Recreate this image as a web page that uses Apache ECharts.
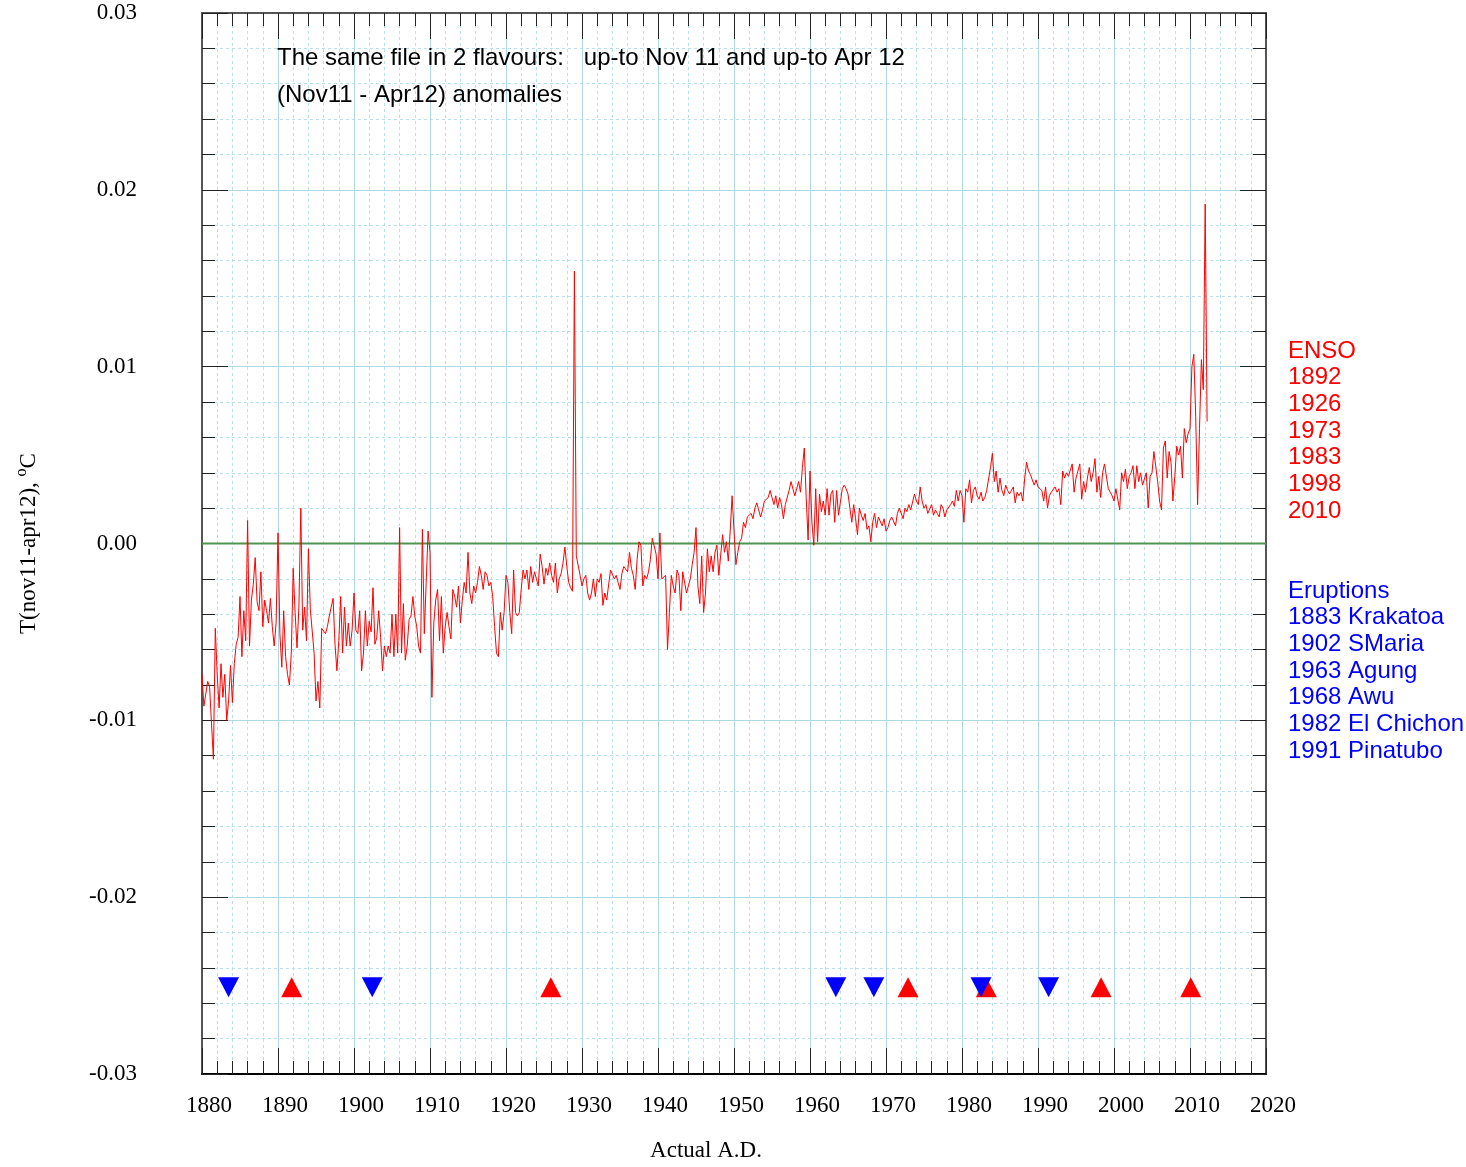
<!DOCTYPE html>
<html><head><meta charset="utf-8">
<script src="https://cdn.jsdelivr.net/npm/echarts@6/dist/echarts.min.js"></script>
<style>html,body{margin:0;padding:0;background:#fff}#chart{width:1466px;height:1167px}</style>
</head><body><div id="chart"></div>
<script>
// ---- data ----
const startYear = 1880;      // first sample
const stepYears = 0.25;      // quarterly readings
const anomaly = [
-0.0074,-0.0092,-0.0093,-0.0078,-0.0081,-0.0102,-0.0122,-0.0048,-0.0074,-0.0093,
-0.0068,-0.0087,-0.0074,-0.0100,-0.0089,-0.0069,-0.0090,-0.0068,-0.0057,-0.0053,
-0.0030,-0.0064,-0.0038,-0.0055,0.0013,-0.0058,-0.0032,-0.0023,-0.0008,-0.0033,
-0.0038,-0.0016,-0.0047,-0.0032,-0.0038,-0.0045,-0.0031,-0.0047,-0.0058,-0.0045,
0.0006,-0.0051,-0.0070,-0.0038,-0.0064,-0.0074,-0.0080,-0.0062,-0.0014,-0.0039,
-0.0059,-0.0036,0.0020,-0.0049,-0.0036,-0.0055,-0.0003,-0.0037,-0.0037,-0.0062,
-0.0089,-0.0078,-0.0093,-0.0048,-0.0047,-0.0051,-0.0047,-0.0041,-0.0041,-0.0031,
-0.0057,-0.0072,-0.0055,-0.0030,-0.0062,-0.0036,-0.0058,-0.0045,-0.0058,-0.0049,
-0.0028,-0.0049,-0.0051,-0.0038,-0.0072,-0.0062,-0.0038,-0.0058,-0.0044,-0.0050,
-0.0025,-0.0057,-0.0053,-0.0038,-0.0053,-0.0072,-0.0058,-0.0064,-0.0058,-0.0062,
-0.0040,-0.0064,-0.0040,-0.0062,0.0009,-0.0062,-0.0034,-0.0066,-0.0058,-0.0043,
-0.0041,-0.0030,-0.0041,-0.0047,-0.0058,-0.0062,0.0008,-0.0051,-0.0022,0.0007,
-0.0005,-0.0087,-0.0045,-0.0032,-0.0026,-0.0055,-0.0030,-0.0062,-0.0047,-0.0039,
-0.0047,-0.0054,-0.0026,-0.0030,-0.0036,-0.0024,-0.0045,-0.0032,-0.0022,-0.0028,
-0.0005,-0.0028,-0.0034,-0.0024,-0.0028,-0.0022,-0.0013,-0.0018,-0.0026,-0.0016,
-0.0018,-0.0024,-0.0022,-0.0030,-0.0047,-0.0062,-0.0064,-0.0039,-0.0049,-0.0039,
-0.0018,-0.0022,-0.0039,-0.0051,-0.0015,-0.0039,-0.0041,-0.0039,-0.0026,-0.0015,
-0.0020,-0.0015,-0.0026,-0.0013,-0.0022,-0.0016,-0.0020,-0.0024,-0.0006,-0.0013,
-0.0023,-0.0014,-0.0018,-0.0011,-0.0018,-0.0022,-0.0011,-0.0028,-0.0020,-0.0017,
-0.0011,-0.0002,-0.0013,-0.0022,-0.0025,-0.0027,0.0154,-0.0007,-0.0006,-0.0018,
-0.0024,-0.0020,-0.0018,-0.0028,-0.0032,-0.0028,-0.0020,-0.0030,-0.0020,-0.0022,
-0.0017,-0.0035,-0.0028,-0.0032,-0.0032,-0.0015,-0.0014,-0.0020,-0.0018,-0.0022,
-0.0026,-0.0017,-0.0013,-0.0012,-0.0016,-0.0005,-0.0014,-0.0018,-0.0026,-0.0009,
0.0001,-0.0001,-0.0024,-0.0018,-0.0020,-0.0016,-0.0009,0.0003,0.0004,-0.0006,
-0.0020,0.0006,-0.0020,-0.0019,-0.0018,-0.0060,-0.0039,-0.0018,-0.0024,-0.0028,
-0.0015,-0.0018,-0.0038,-0.0016,-0.0016,-0.0028,-0.0024,-0.0020,-0.0012,-0.0005,
0.0009,-0.0024,-0.0034,-0.0007,-0.0039,-0.0028,-0.0003,-0.0016,-0.0007,-0.0016,
-0.0005,-0.0001,-0.0018,-0.0018,0.0005,-0.0005,0.0001,-0.0010,0.0007,0.0027,
0.0026,-0.0012,-0.0005,0.0001,0.0003,0.0012,0.0009,0.0015,0.0014,0.0017,
0.0014,0.0020,0.0023,0.0019,0.0015,0.0019,0.0024,0.0025,0.0026,0.0030,
0.0026,0.0022,0.0027,0.0020,0.0026,0.0022,0.0014,0.0022,0.0021,0.0030,
0.0035,0.0036,0.0027,0.0031,0.0035,0.0029,0.0043,0.0054,0.0026,0.0002,
0.0041,0.0012,-0.0001,0.0031,0.0001,0.0028,0.0018,0.0024,0.0016,0.0031,
0.0016,0.0028,0.0030,0.0012,0.0030,0.0016,0.0016,0.0031,0.0033,0.0031,
0.0028,0.0020,0.0012,0.0022,0.0014,0.0005,0.0020,0.0016,0.0013,0.0017,
0.0008,0.0010,0.0001,0.0012,0.0017,0.0009,0.0015,0.0014,0.0010,0.0014,
0.0007,0.0009,0.0013,0.0015,0.0016,0.0010,0.0017,0.0020,0.0021,0.0014,
0.0020,0.0018,0.0022,0.0019,0.0020,0.0028,0.0024,0.0022,0.0032,0.0024,
0.0020,0.0022,0.0017,0.0018,0.0022,0.0016,0.0019,0.0017,0.0015,0.0022,
0.0020,0.0015,0.0019,0.0020,0.0022,0.0024,0.0021,0.0030,0.0024,0.0030,
0.0027,0.0012,0.0031,0.0029,0.0036,0.0023,0.0030,0.0032,0.0027,0.0025,
0.0029,0.0024,0.0026,0.0030,0.0030,0.0043,0.0051,0.0035,0.0041,0.0029,
0.0037,0.0030,0.0027,0.0033,0.0030,0.0028,0.0027,0.0032,0.0023,0.0029,
0.0027,0.0029,0.0024,0.0037,0.0046,0.0041,0.0039,0.0040,0.0033,0.0036,
0.0032,0.0031,0.0030,0.0024,0.0032,0.0020,0.0027,0.0029,0.0030,0.0032,
0.0029,0.0031,0.0022,0.0041,0.0037,0.0040,0.0038,0.0037,0.0045,0.0029,
0.0037,0.0038,0.0045,0.0025,0.0035,0.0029,0.0037,0.0043,0.0035,0.0040,
0.0048,0.0029,0.0038,0.0026,0.0040,0.0045,0.0045,0.0031,0.0029,0.0027,
0.0024,0.0031,0.0031,0.0019,0.0040,0.0035,0.0042,0.0031,0.0038,0.0040,
0.0044,0.0031,0.0044,0.0035,0.0040,0.0033,0.0033,0.0040,0.0020,0.0038,
0.0040,0.0052,0.0053,0.0035,0.0024,0.0019,0.0054,0.0058,0.0037,0.0052,
0.0046,0.0024,0.0038,0.0055,0.0050,0.0055,0.0037,0.0065,0.0057,0.0062,
0.0065,0.0100,0.0107,0.0072,0.0022,0.0065,0.0104,0.0087,0.0192,0.0069
];

const xTickLabels = ['1880','1890','1900','1910','1920','1930','1940','1950','1960','1970','1980','1990','2000','2010','2020'];
const yTickLabels = ['-0.03','-0.02','-0.01','0.00','0.01','0.02','0.03'];
const xMin = 1880, xMax = 2020, xStep = 10;
const yMin = -0.03, yMax = 0.03, yStep = 0.01;
const baseline = 0;

const ensoYears = ['1892','1926','1973','1983','1998','2010'];
const ensoMarkX = [1891.8, 1925.9, 1972.9, 1983.2, 1998.3, 2010.1];
const eruptionNames = ['1883 Krakatoa','1902 SMaria','1963 Agung','1968 Awu','1982 El Chichon','1991 Pinatubo'];
const eruptionMarkX = [1883.5, 1902.4, 1963.4, 1968.4, 1982.5, 1991.4];
const markerLevel = -0.0251;

const noteLines = ['The same file in 2 flavours:   up-to Nov 11 and up-to Apr 12', '(Nov11 - Apr12) anomalies'];
const ensoLines = ['ENSO'].concat(ensoYears);
const eruptionLines = ['Eruptions'].concat(eruptionNames);

// ---- chart ----
const SERIF = '"Liberation Serif", "Times New Roman", serif';
const SANS = '"Liberation Sans", Arial, sans-serif';
const gridColor = '#add8e6';
const minorGridColor = '#b9dfea';

const lineData = anomaly.map((v, i) => [startYear + i * stepYears, v]);

function frameAxis(extra) {
  return Object.assign({
    type: 'value',
    axisLine: { show: true, onZero: false, lineStyle: { color: '#555', width: 2 } },
    axisTick: { show: true, inside: true, length: 26, lineStyle: { color: '#222', width: 1 } },
    minorTick: { show: true, splitNumber: 5, length: 13, lineStyle: { color: '#222', width: 1 } },
    splitLine: { show: false },
    axisLabel: { show: false }
  }, extra);
}

const option = {
  animation: false,
  backgroundColor: '#fff',
  grid: { left: 202, right: 200, top: 13, bottom: 89, containLabel: false },
  xAxis: [
    frameAxis({
      min: xMin, max: xMax, interval: xStep, position: 'bottom',
      axisLine: { show: true, onZero: false, lineStyle: { color: '#000', width: 2 } },
      splitLine: { show: true, lineStyle: { color: gridColor, width: 1 } },
      minorSplitLine: { show: true, lineStyle: { color: minorGridColor, width: 1, type: [3, 3] } },
      axisLabel: {
        show: true, margin: 20, color: '#000', fontFamily: SERIF, fontSize: 23,
        padding: [0, 0, 0, 14],
        formatter: v => xTickLabels[Math.round((v - xMin) / xStep)]
      },
      name: 'Actual A.D.', nameLocation: 'middle', nameGap: 65,
      nameTextStyle: { color: '#000', fontFamily: SERIF, fontSize: 23, padding: [0, 56, 0, 0] }
    }),
    frameAxis({ min: xMin, max: xMax, interval: xStep, position: 'top' })
  ],
  yAxis: [
    frameAxis({
      min: yMin, max: yMax, interval: yStep, position: 'left',
      splitLine: { show: true, lineStyle: { color: gridColor, width: 1 } },
      minorSplitLine: { show: true, lineStyle: { color: minorGridColor, width: 1, type: [3, 3] } },
      axisLabel: {
        show: true, margin: 65, color: '#000', fontFamily: SERIF, fontSize: 23,
        formatter: v => yTickLabels[Math.round((v - yMin) / yStep)]
      },
      name: 'T(nov11-apr12), {sup|o}C', nameLocation: 'middle', nameRotate: 90, nameGap: 158,
      nameTextStyle: {
        color: '#000', fontFamily: SERIF, fontSize: 23, lineHeight: 30,
        rich: { sup: { fontFamily: SERIF, fontSize: 16, verticalAlign: 'top', lineHeight: 30, padding: [0, 0, 10, 0] } }
      }
    }),
    frameAxis({ min: yMin, max: yMax, interval: yStep, position: 'right' })
  ],
  series: [
    {
      name: 'zero', type: 'line', silent: true, symbol: 'none', z: 2,
      data: [[xMin, baseline], [xMax, baseline]],
      lineStyle: { color: '#4e9650', width: 2 }
    },
    {
      name: 'anomaly', type: 'line', showSymbol: false, symbol: 'none', z: 3,
      data: lineData, sampling: null,
      lineStyle: { color: '#ff0000', width: 1 }
    },
    {
      name: 'ENSO', type: 'scatter', symbol: 'triangle', symbolSize: [21, 20], z: 4,
      data: ensoMarkX.map(x => [x, markerLevel]),
      itemStyle: { color: '#ff0000', opacity: 1 }
    },
    {
      name: 'Eruptions', type: 'scatter', symbol: 'triangle', symbolRotate: 180, symbolSize: [21, 20], z: 5,
      data: eruptionMarkX.map(x => [x, markerLevel]),
      itemStyle: { color: '#0000ff', opacity: 1 }
    }
  ],
  graphic: [].concat(
    noteLines.map((t, k) => ({
      type: 'text', x: 277, y: 58 + k * 37, z: 10,
      style: { text: t, fill: '#000', font: '24px ' + SANS, verticalAlign: 'middle', align: 'left' }
    })),
    ensoLines.map((t, k) => ({
      type: 'text', x: 1288, y: 351 + k * 26.7, z: 10,
      style: { text: t, fill: '#ff0000', font: '24px ' + SANS, verticalAlign: 'middle', align: 'left' }
    })),
    eruptionLines.map((t, k) => ({
      type: 'text', x: 1288, y: 591 + k * 26.7, z: 10,
      style: { text: t, fill: '#0000ff', font: '24px ' + SANS, verticalAlign: 'middle', align: 'left' }
    }))
  )
};

const chart = echarts.init(document.getElementById('chart'), null, { renderer: 'canvas' });
chart.setOption(option);
</script>
</body></html>
